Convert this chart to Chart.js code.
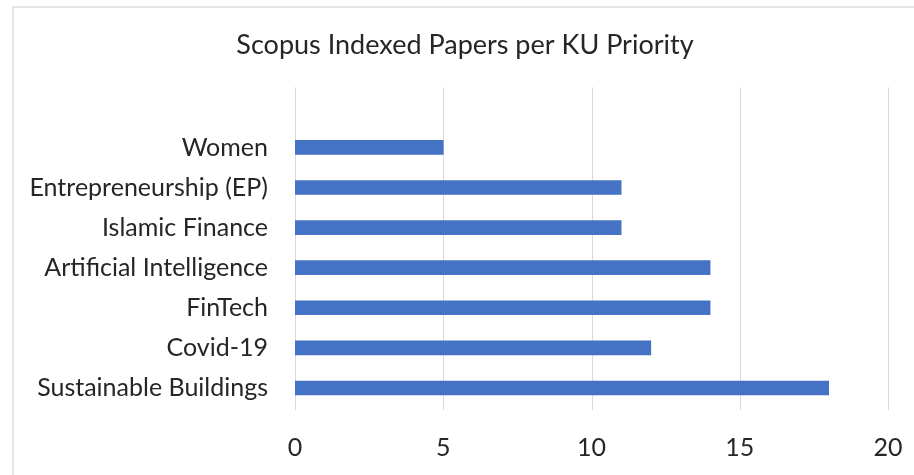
<!DOCTYPE html>
<html>
<head>
<meta charset="utf-8">
<script src="https://cdn.jsdelivr.net/npm/chart.js@4"></script>
<style>
    body { margin: 0; background: #ffffff; }
    #frame {
        position: absolute; left: 12px; top: 6px;
        width: 1000px; height: 600px;
        border: 2px solid #e6e6e6;
    }
    #myChart { position: absolute; left: 0; top: 0; }
</style>
</head>
<body>
<div id="frame"></div>
<canvas id="myChart" width="914" height="475"></canvas>
<script>
var priorities = ['Women', 'Entrepreneurship (EP)', 'Islamic Finance', 'Artificial Intelligence',
    'FinTech', 'Covid-19', 'Sustainable Buildings'];
var papers = [5, 11, 11, 14, 14, 12, 18];
var xTicks = [0, 5, 10, 15, 20];

var fontName = 'Lato';

// vertical grid lines, drawn a bit above the category band like the original
var gridPlugin = {
    id: 'tallGrid',
    beforeDatasetsDraw: function(chart) {
        var c = chart.ctx;
        var x = chart.scales.x;
        c.save();
        c.strokeStyle = '#d9d9d9';
        c.lineWidth = 1;
        xTicks.forEach(function(v) {
            var px = Math.round(x.getPixelForValue(v)) + 0.5;
            c.beginPath();
            c.moveTo(px, chart.chartArea.top - 40);
            c.lineTo(px, chart.chartArea.bottom + 2);
            c.stroke();
        });
        c.restore();
    }
};

document.addEventListener("DOMContentLoaded", function() {
    var ctx = document.getElementById('myChart').getContext('2d');

    var myChart = new Chart(ctx, {
        type: 'bar',
        data: {
            labels: priorities,
            datasets: [{
                label: 'Papers',
                data: papers,
                backgroundColor: '#4472c4',
                borderWidth: 0,
                barThickness: 14
            }]
        },
        options: {
            indexAxis: 'y',
            responsive: false,
            animation: false,
            layout: { padding: { left: 16, right: 0, top: 0, bottom: 0 } },
            plugins: {
                legend: { display: false },
                tooltip: { enabled: false },
                title: {
                    display: true,
                    text: 'Scopus Indexed Papers per KU Priority',
                    color: '#262626',
                    font: { family: fontName, size: 27, weight: 'normal' },
                    padding: { top: 29, bottom: 66 }
                }
            },
            scales: {
                x: {
                    min: 0,
                    max: 20,
                    afterBuildTicks: function(scale) {
                        scale.ticks = xTicks.map(function(v) { return { value: v }; });
                    },
                    afterFit: function(scale) {
                        scale.height = 67;
                        scale.paddingLeft = 0;
                        scale.paddingRight = 26;
                    },
                    grid: { display: false, drawTicks: false },
                    border: { display: false },
                    ticks: {
                        color: '#262626',
                        padding: 25,
                        font: { family: fontName, size: 25 }
                    }
                },
                y: {
                    afterFit: function(scale) { scale.width = 279; },
                    grid: { display: false, drawTicks: false },
                    border: { display: false },
                    ticks: {
                        color: '#262626',
                        padding: 27,
                        font: { family: fontName, size: 25 }
                    }
                }
            }
        },
        plugins: [gridPlugin]
    });
});
</script>
</body>
</html>
